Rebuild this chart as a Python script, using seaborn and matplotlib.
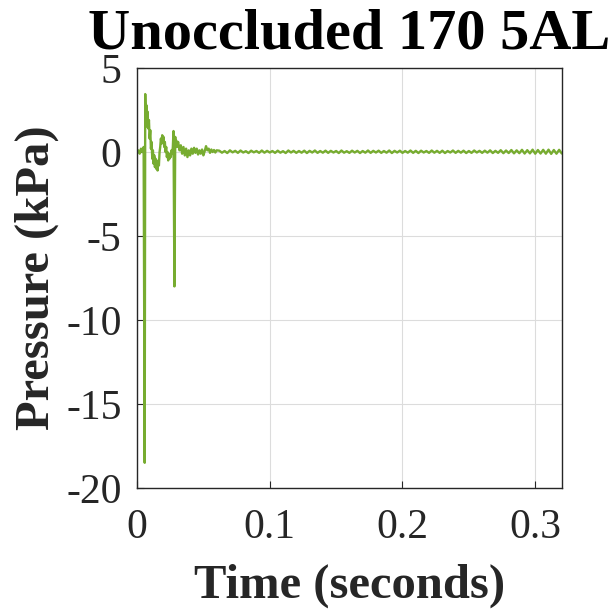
import matplotlib
matplotlib.use("Agg")
import matplotlib.pyplot as plt
import seaborn as sns
import pandas as pd

# Transient part (time in s, pressure in kPa)
t_transient = [0.000, 0.001, 0.002, 0.003, 0.004, 0.005, 0.0058, 0.0062, 0.0066, 0.007,
               0.0075, 0.008, 0.0085, 0.009, 0.0095, 0.010, 0.0105, 0.011, 0.0115, 0.012,
               0.0125, 0.013, 0.0135, 0.014, 0.0145, 0.015, 0.0155, 0.016, 0.0165, 0.017,
               0.0175, 0.018, 0.0185, 0.019, 0.0195, 0.020, 0.0205, 0.021, 0.0215, 0.022,
               0.0225, 0.023, 0.0235, 0.024, 0.0245, 0.025, 0.0255, 0.026, 0.0265, 0.027,
               0.0275, 0.0282, 0.0288, 0.029, 0.0295, 0.030, 0.031, 0.032, 0.033, 0.034,
               0.035, 0.036, 0.037, 0.038, 0.039, 0.040, 0.041, 0.042, 0.043, 0.044,
               0.045, 0.046, 0.047, 0.048, 0.049, 0.050, 0.051, 0.052, 0.053, 0.054,
               0.055, 0.056, 0.057, 0.058, 0.059, 0.060]
p_transient = [0.0, 0.1, -0.1, 0.2, 0.0, 0.3, -18.5, 3.45, 1.5, 2.8,
               2.0, 2.4, 1.4, 1.9, 0.8, 1.3, 0.2, 0.6, -0.4, 0.1,
               -0.7, -0.2, -0.9, -0.4, -1.0, -0.6, -1.1, -0.5, -0.8, 0.0,
               0.3, 0.8, 0.5, 1.0, 0.6, 0.9, 0.3, 0.6, 0.0, 0.3,
               -0.3, 0.0, -0.5, -0.2, -0.4, -0.1, -0.3, 0.1, -0.1, 0.3,
               1.25, -8.0, 0.9, 0.4, 0.7, 0.3, 0.6, 0.1, 0.4, -0.1,
               0.3, -0.2, 0.2, -0.3, 0.1, -0.2, 0.2, -0.1, 0.25, -0.05,
               0.2, -0.15, 0.1, -0.1, 0.15, -0.2, 0.05, 0.35, 0.1, 0.2,
               -0.05, 0.15, 0.0, 0.12, -0.03, 0.1]

# Settled part: sampled every 2 ms from 0.062 s to 0.320 s
p_settled = [0.08, -0.04, 0.06, -0.06, 0.10, -0.02, 0.07, -0.05, 0.09, -0.03,
             0.05, -0.06, 0.08, -0.02, 0.06, -0.05, 0.09, -0.04, 0.07, -0.03,
             0.06, -0.05, 0.08, -0.04, 0.05, -0.06, 0.09, -0.03, 0.07, -0.05,
             0.06, -0.04, 0.08, -0.06, 0.07, -0.03, 0.09, -0.05, 0.06, -0.04,
             0.08, -0.05, 0.07, -0.03, 0.06, -0.06, 0.09, -0.04, 0.05, -0.05,
             0.08, -0.03, 0.07, -0.06, 0.06, -0.04, 0.09, -0.05, 0.07, -0.03,
             0.08, -0.05, 0.06, -0.04, 0.09, -0.06, 0.07, -0.03, 0.08, -0.05,
             0.06, -0.04, 0.09, -0.05, 0.07, -0.06, 0.08, -0.03, 0.06, -0.05,
             0.09, -0.04, 0.07, -0.05, 0.08, -0.06, 0.06, -0.03, 0.09, -0.05,
             0.07, -0.04, 0.08, -0.06, 0.06, -0.05, 0.09, -0.03, 0.07, -0.05,
             0.08, -0.04, 0.10, -0.06, 0.07, -0.05, 0.11, -0.07, 0.09, -0.06,
             0.12, -0.08, 0.10, -0.07, 0.13, -0.09, 0.11, -0.08, 0.14, -0.10,
             0.12, -0.09, 0.13, -0.10, 0.14, -0.11, 0.12, -0.10, 0.13, -0.09]
t_settled = [round(0.062 + 0.002 * i, 4) for i in range(len(p_settled))]

x_ticks = [0, 0.1, 0.2, 0.3]
x_ticklabels = ["0", "0.1", "0.2", "0.3"]
y_ticks = [-20, -15, -10, -5, 0, 5]
y_ticklabels = ["-20", "-15", "-10", "-5", "0", "5"]

df = pd.DataFrame({"Time": t_transient + t_settled,
                   "Pressure": p_transient + p_settled})

sns.set_style("white")
plt.rcParams["font.family"] = ["Liberation Serif", "DejaVu Serif"]

fig = plt.figure(figsize=(6.16, 6.09), dpi=100)
ax = fig.add_axes([0.2224, 0.1987, 0.6896, 0.6896])

sns.lineplot(data=df, x="Time", y="Pressure", ax=ax, color="#77AC30",
             linewidth=1.7, estimator=None, sort=True)

ax.set_xlim(0, 0.32)
ax.set_ylim(-20, 5)
ax.set_xticks(x_ticks)
ax.set_xticklabels(x_ticklabels)
ax.set_yticks(y_ticks)
ax.set_yticklabels(y_ticklabels)
ax.grid(True, color="#dcdcdc", linewidth=0.8)
ax.set_axisbelow(True)
for s in ax.spines.values():
    s.set_visible(True)
    s.set_color("#262626")
    s.set_linewidth(1.0)
ax.tick_params(direction="in", length=5, width=0.8, labelsize=30,
               colors="#262626", top=False, right=False,
               bottom=True, left=True)
ax.tick_params(axis="y", pad=11)
ax.tick_params(axis="x", pad=15)

ax.set_xlabel("Time (seconds)", fontsize=35, fontweight="bold",
              labelpad=12, color="#262626")
ax.set_ylabel("Pressure (kPa)", fontsize=35, fontweight="bold",
              labelpad=5, color="#262626")
ax.set_title("Unoccluded 170 5AL", fontsize=42, fontweight="bold",
             pad=14, color="black")

fig.savefig("out.png", dpi=100)
